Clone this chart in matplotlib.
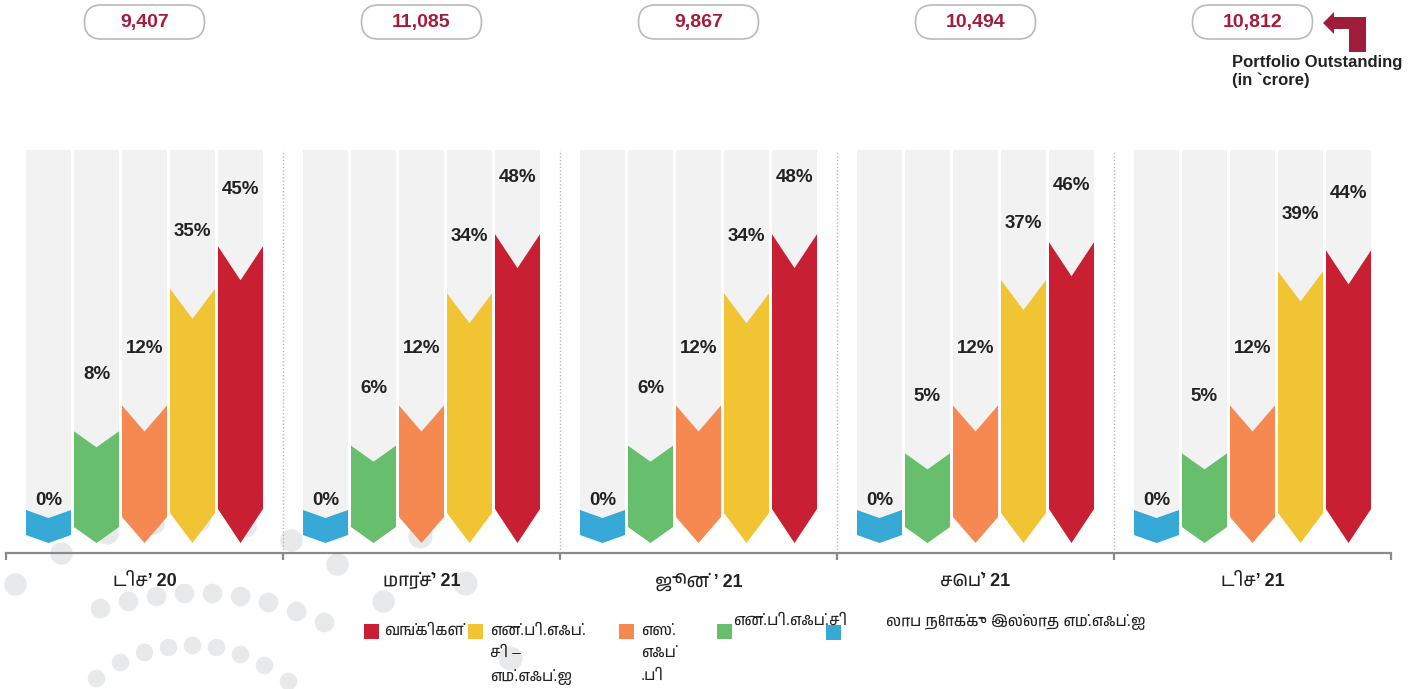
import numpy as np
import matplotlib
matplotlib.use('Agg')
import matplotlib.pyplot as plt
from matplotlib import font_manager, ft2font
from matplotlib.patches import Polygon, FancyBboxPatch, Rectangle

# find some font that has tamil glyphs (U+0B95), if any is installed
tamil = None
for f in font_manager.fontManager.ttflist:
    try:
        cmap = ft2font.FT2Font(f.fname).get_charmap()
    except Exception:
        continue
    if 0x0B95 in cmap:
        tamil = f.name
        if 'Tamil' in f.name:
            break
FAM = ['Liberation Sans'] + ([tamil] if tamil else []) + ['DejaVu Sans']
plt.rcParams['font.family'] = FAM

# data
periods = ['டிச’ 20', 'மார்ச்’ 21', 'ஜூன் ’ 21', 'செப்’ 21', 'டிச’ 21']
outstanding = [9407, 11085, 9867, 10494, 10812]
nonprofit_mfi = [0, 0, 0, 0, 0]
nbfc = [8, 6, 6, 5, 5]
sfb = [12, 12, 12, 12, 12]
nbfc_mfi = [35, 34, 34, 37, 39]
banks = [45, 48, 48, 46, 44]
legend_labels = ['வங்கிகள்', 'என்.பி.எஃப்.\nசி –\nஎம்.எஃப்.ஐ', 'எஸ்.\nஎஃப்\n.பி',
                 'என்.பி.எஃப்.சி', 'லாப நோக்கு இல்லாத எம்.எஃப்.ஐ']

series = [nonprofit_mfi, nbfc, sfb, nbfc_mfi, banks]
colors = ['#36a9d6', '#67be6d', '#f58951', '#f0c432', '#c81f32']
depths = [8, 16, 26, 30, 34]      # chevron depth in px
TIP = 33                          # arrow tip below the zero line, px
GRAY = '#f2f2f2'
DARKRED = '#a51b3a'
TXT = '#222222'

W, H = 1425, 689
fig = plt.figure(figsize=(W / 100, H / 100), dpi=100)

def px_box(l, t, r, b):
    return [l / W, 1 - b / H, (r - l) / W, (b - t) / H]

# background layer in pixel units (dots, pills, legend)
bg = fig.add_axes([0, 0, 1, 1], zorder=0)
bg.set_xlim(0, W)
bg.set_ylim(H, 0)
bg.axis('off')

# decorative dots
def arc(cx, cy, r, xs):
    xs = np.asarray(xs, float)
    return xs, cy - np.sqrt(r ** 2 - (xs - cx) ** 2)

for cx, cy, r, xs, s in [(190, 790, 270, np.arange(15, 390, 46), 260),
                         (195, 893, 300, np.arange(100, 350, 28), 200),
                         (190, 795, 150, np.arange(72, 310, 24), 160),
                         (190, 800, 350, np.arange(330, 620, 45), 300)]:
    x, y = arc(cx, cy, r, xs)
    bg.scatter(x, y, s=s, color='#e8e9ea', lw=0)

ax = fig.add_axes(px_box(6, 150, 1391, 553), zorder=2)
ax.patch.set_alpha(0)

P = 0.7
def fwd(v):
    return np.sign(v) * np.abs(v) ** P
def inv(v):
    return np.sign(v) * np.abs(v) ** (1 / P)
ax.set_yscale('function', functions=(fwd, inv))
ax.set_ylim(-3.37, 70.2)
ax.set_xlim(-0.5, 4.5)

pitch = 48 / 277
width = 45 / 277
offsets = (np.arange(5) - 2) * pitch

to_disp = ax.transData.transform
to_data = ax.transData.inverted().transform
ytop = ax.get_ylim()[1]

for j, vals in enumerate(series):
    d = depths[j]
    for i, v in enumerate(vals):
        xc = i + offsets[j]
        xl, xr = xc - width / 2, xc + width / 2
        (_, yt), (_, y0) = to_disp([(xc, v), (xc, 0)])
        # gray column behind, down to the notch
        yb = to_data((0, yt - d))[1]
        ax.bar(xc, ytop - yb, bottom=yb, width=width, color=GRAY, lw=0, zorder=1)
        pts_disp = [(to_disp((xl, 0))[0], yt), (to_disp((xc, 0))[0], yt - d),
                    (to_disp((xr, 0))[0], yt), (to_disp((xr, 0))[0], y0 - TIP + d),
                    (to_disp((xc, 0))[0], y0 - TIP), (to_disp((xl, 0))[0], y0 - TIP + d)]
        ax.add_patch(Polygon(to_data(pts_disp), closed=True, color=colors[j], lw=0, zorder=2))
        ax.annotate(f'{v}%', (xc, v), xytext=(0, 57 if v > 0 else 10), textcoords='offset pixels',
                    ha='center', va='center', fontsize=13.5, fontweight='bold', color=TXT, zorder=3)

for b in np.arange(0.5, 4.5):
    ax.axvline(b, color='#b8b8b8', ls=(0, (1, 1.5)), lw=1, zorder=0)

for s in ['top', 'left', 'right']:
    ax.spines[s].set_visible(False)
ax.spines['bottom'].set_color('#8a8a8a')
ax.spines['bottom'].set_linewidth(1.6)
ax.set_yticks([])
ax.set_xticks(np.arange(-0.5, 5))
ax.set_xticklabels([])
ax.tick_params(axis='x', which='major', direction='out', length=5, width=1.6, color='#8a8a8a')
ax.set_xticks(range(5), periods, minor=True)
ax.tick_params(axis='x', which='minor', length=0, pad=14, labelsize=13)
for t in ax.get_xticklabels(minor=True):
    t.set_fontweight('bold')
    t.set_color(TXT)

# portfolio outstanding pills on top
for i, val in enumerate(outstanding):
    cx = to_disp((i, 0))[0]
    bg.add_patch(FancyBboxPatch((cx - 60, 5), 120, 34, boxstyle='round,pad=0,rounding_size=17',
                                fc='white', ec='#b6bbc0', lw=1.2))
    bg.text(cx, 22.5, f'{val:,}', ha='center', va='center', fontsize=14, fontweight='bold', color=DARKRED)

# bent arrow icon
bg.add_patch(Polygon([(1323, 23), (1334, 12), (1334, 17), (1366, 17), (1366, 52), (1349, 52),
                      (1349, 29), (1334, 29), (1334, 34)], closed=True, color='#a01c3b', lw=0))
bg.text(1232, 62, 'Portfolio Outstanding', fontsize=12, fontweight='bold', color=TXT, va='center')
bg.text(1232, 80, '(in `crore)', fontsize=12, fontweight='bold', color=TXT, va='center')

# legend, laid out like the original
leg = [(364, 624, 384, 632), (468, 624, 490, 632), (619, 624, 641, 632),
       (717, 624, 733, 622), (826, 625, 886, 622)]
leg_colors = colors[::-1]
for (sx, sy, tx, ty), c, lab in zip(leg, leg_colors, legend_labels):
    bg.add_patch(Rectangle((sx, sy), 15, 15, color=c, lw=0))
    bg.text(tx, ty - 8, lab, fontsize=11, color=TXT, va='top', ha='left', linespacing=1.75)

fig.savefig('out.png', dpi=100)
